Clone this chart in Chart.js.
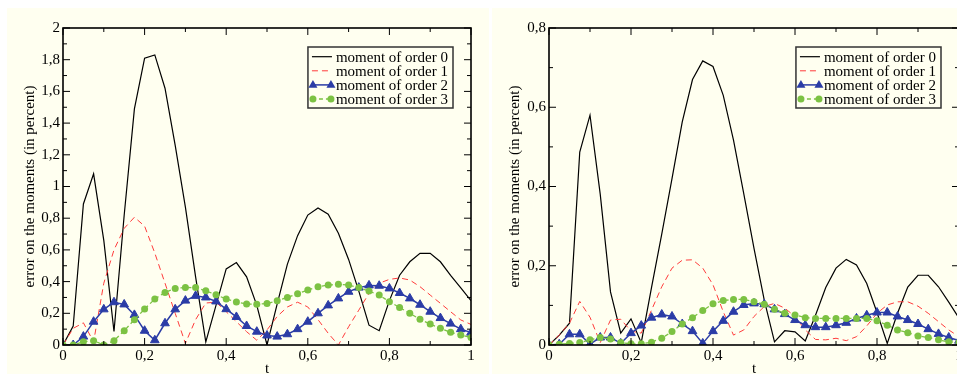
<!DOCTYPE html>
<html><head><meta charset="utf-8">
<script src="https://cdn.jsdelivr.net/npm/chart.js@4"></script>
<style>
html,body{margin:0;padding:0;background:#fff;overflow:hidden;width:957px;height:376px;}
.panel{position:absolute;background:#fffff0;}
#p1{left:7px;top:8px;width:482px;height:366px;}
#p2{left:492px;top:8px;width:490px;height:366px;}
canvas{display:block;}
</style></head><body>
<div class="panel" id="p1"><canvas id="c1" width="482" height="366"></canvas></div>
<div class="panel" id="p2"><canvas id="c2" width="490" height="366"></canvas></div>
<script>
// ---- data ----
const tValues = [0,0.025,0.05,0.075,0.1,0.125,0.15,0.175,0.2,0.225,0.25,0.275,0.3,0.325,0.35,0.375,0.4,0.425,0.45,0.475,0.5,0.525,0.55,0.575,0.6,0.625,0.65,0.675,0.7,0.725,0.75,0.775,0.8,0.825,0.85,0.875,0.9,0.925,0.95,0.975,1];
const seriesLabels = ['moment of order 0','moment of order 1','moment of order 2','moment of order 3'];

const leftOrder0 = [0,0.12,0.89,1.08,0.66,0.085,0.82,1.49,1.81,1.83,1.62,1.26,0.87,0.43,0.02,0.25,0.48,0.52,0.43,0.25,0.0,0.26,0.51,0.69,0.82,0.865,0.825,0.705,0.54,0.34,0.125,0.09,0.28,0.44,0.525,0.578,0.578,0.525,0.44,0.36,0.28];
const leftOrder1 = [0,0.105,0.14,0.02,0.39,0.6,0.736,0.806,0.75,0.58,0.39,0.2,0.01,0.16,0.265,0.27,0.21,0.147,0.084,0.03,0.095,0.18,0.24,0.27,0.24,0.16,0.074,0.0,0.115,0.22,0.326,0.39,0.414,0.423,0.41,0.368,0.315,0.263,0.21,0.158,0.13];
const leftOrder2 = [0,0.0,0.053,0.147,0.225,0.27,0.256,0.19,0.09,0.03,0.137,0.225,0.28,0.31,0.30,0.275,0.226,0.177,0.12,0.084,0.06,0.053,0.068,0.1,0.147,0.2,0.25,0.294,0.336,0.362,0.376,0.374,0.357,0.328,0.294,0.254,0.21,0.17,0.135,0.1,0.078];
const leftOrder3 = [0,0,0.02,0.027,0.0,0.027,0.09,0.16,0.227,0.29,0.332,0.357,0.363,0.362,0.342,0.317,0.29,0.272,0.258,0.257,0.262,0.279,0.3,0.323,0.347,0.368,0.378,0.383,0.378,0.363,0.34,0.315,0.273,0.237,0.2,0.162,0.132,0.105,0.08,0.063,0.048];

const rightOrder0 = [0,0.025,0.055,0.487,0.58,0.38,0.134,0.03,0.066,0.006,0.145,0.28,0.42,0.563,0.67,0.717,0.703,0.63,0.517,0.382,0.244,0.113,0.008,0.036,0.033,0.01,0.075,0.145,0.194,0.216,0.202,0.155,0.082,0.004,0.08,0.146,0.176,0.176,0.147,0.108,0.068];
const rightOrder1 = [0,0.025,0.055,0.11,0.07,0.006,0.063,0.065,0.035,0.03,0.088,0.147,0.194,0.214,0.215,0.194,0.152,0.084,0.025,0.038,0.072,0.097,0.105,0.093,0.072,0.038,0.014,0.013,0.017,0.011,0.021,0.048,0.08,0.101,0.109,0.109,0.098,0.08,0.059,0.038,0.021];
const rightOrder2 = [0,0.002,0.027,0.027,0.002,0.019,0.019,0.004,0.03,0.049,0.069,0.077,0.072,0.053,0.035,0.004,0.035,0.061,0.084,0.101,0.105,0.103,0.09,0.078,0.063,0.05,0.045,0.045,0.05,0.056,0.067,0.075,0.082,0.082,0.072,0.063,0.053,0.04,0.028,0.019,0.011];
const rightOrder3 = [0,0.002,0.004,0.006,0.013,0.019,0.015,0.006,0.003,0.003,0.007,0.017,0.034,0.053,0.069,0.087,0.104,0.112,0.115,0.115,0.109,0.103,0.09,0.08,0.076,0.069,0.067,0.067,0.067,0.067,0.067,0.067,0.061,0.05,0.038,0.031,0.023,0.019,0.013,0.008,0.007];

const xTickStep = 0.2;
const leftYMax = 2, rightYMax = 0.8, yTickStep = 0.2;
const xTitle = 't';
const yTitle = 'error on the moments (in percent)';

// ---- styling ----
const BG = '#fffff0';
const FONT = '"Liberation Serif", "Times New Roman", serif';
Chart.defaults.font.family = FONT;
Chart.defaults.color = '#000';

const fmt = v => String(Math.round(v * 10) / 10).replace('.', ',');
const pts = arr => arr.map((y, i) => ({x: tValues[i], y}));

function makeDatasets(a0, a1, a2, a3) {
  return [
    {label: seriesLabels[0], data: pts(a0), borderColor: '#000', borderWidth: 1.2, pointRadius: 0, order: 3},
    {label: seriesLabels[1], data: pts(a1), borderColor: '#ff3b3b', borderWidth: 1, borderDash: [6, 4], pointRadius: 0, order: 2},
    {label: seriesLabels[2], data: pts(a2), borderColor: '#2b3ca6', backgroundColor: '#2b3ca6', borderWidth: 1.5,
      pointStyle: 'triangle', pointRadius: 5, pointBorderWidth: 1, pointBackgroundColor: '#2b3ca6', pointBorderColor: '#2b3ca6', order: 1},
    {label: seriesLabels[3], data: pts(a3), borderColor: '#7cc243', backgroundColor: '#7cc243', borderWidth: 1.3, borderDash: [4, 3],
      pointStyle: 'circle', pointRadius: 3.5, pointBorderWidth: 0, pointBackgroundColor: '#7cc243', order: 0}
  ];
}

function line(ctx, x1, y1, x2, y2) { ctx.beginPath(); ctx.moveTo(x1, y1); ctx.lineTo(x2, y2); ctx.stroke(); }

const frameTicks = {
  id: 'frameTicks',
  afterDatasetsDraw(chart) {
    const ctx = chart.ctx, a = chart.chartArea, xs = chart.scales.x, ys = chart.scales.y;
    ctx.save();
    ctx.strokeStyle = '#000';
    ctx.lineWidth = 1;
    const dX = (v, len) => { const p = xs.getPixelForValue(v); line(ctx, p, a.bottom, p, a.bottom - len); line(ctx, p, a.top, p, a.top + len); };
    const dY = (v, len) => { const p = ys.getPixelForValue(v); line(ctx, a.left, p, a.left + len, p); line(ctx, a.right, p, a.right - len, p); };
    xs.ticks.forEach((t, i) => { dX(t.value, 7); if (i < xs.ticks.length - 1) dX((t.value + xs.ticks[i + 1].value) / 2, 4); });
    ys.ticks.forEach((t, i) => { dY(t.value, 7); if (i < ys.ticks.length - 1) dY((t.value + ys.ticks[i + 1].value) / 2, 4); });
    ctx.lineWidth = 1.6;
    ctx.strokeRect(a.left, a.top, a.right - a.left, a.bottom - a.top);
    ctx.restore();
  }
};

function marker(ctx, style, r, x, y) {
  ctx.beginPath();
  if (style === 'triangle') {
    ctx.moveTo(x, y - r); ctx.lineTo(x + r * 0.9, y + r * 0.55); ctx.lineTo(x - r * 0.9, y + r * 0.55); ctx.closePath();
  } else {
    ctx.arc(x, y, r, 0, Math.PI * 2);
  }
  ctx.fill();
}

const boxLegend = {
  id: 'boxLegend',
  afterDraw(chart, args, opts) {
    const ctx = chart.ctx, a = chart.chartArea, ds = chart.data.datasets;
    ctx.save();
    ctx.font = '15px ' + FONT;
    const tw = Math.max(...ds.map(d => ctx.measureText(d.label).width));
    const w = 28 + tw + 5, h = 61;
    const x = a.right - opts.right - w, y = a.top + opts.top;
    ctx.fillStyle = BG; ctx.fillRect(x, y, w, h);
    ctx.strokeStyle = '#333'; ctx.lineWidth = 1.5; ctx.strokeRect(x, y, w, h);
    ds.forEach((d, i) => {
      const cy = y + 9.7 + i * 14.1;
      ctx.setLineDash(d.borderDash || []);
      ctx.strokeStyle = d.borderColor; ctx.lineWidth = d.borderWidth;
      line(ctx, x + 4, cy, x + 24, cy);
      ctx.setLineDash([]);
      if (d.pointRadius > 0) {
        ctx.fillStyle = d.pointBackgroundColor;
        marker(ctx, d.pointStyle, d.pointRadius, x + 5, cy);
        marker(ctx, d.pointStyle, d.pointRadius, x + 23, cy);
      }
      ctx.fillStyle = '#000'; ctx.textBaseline = 'middle'; ctx.textAlign = 'left';
      ctx.fillText(d.label, x + 28, cy + 1);
    });
    ctx.restore();
  }
};

function makeChart(id, datasets, yMax, yWidth, pad) {
  return new Chart(document.getElementById(id), {
    type: 'line',
    data: {datasets},
    options: {
      responsive: false, animation: false,
      layout: {padding: pad},
      plugins: {legend: {display: false}, tooltip: {enabled: false}, boxLegend: {right: 18, top: 19}},
      scales: {
        x: {type: 'linear', min: 0, max: 1,
          ticks: {stepSize: xTickStep, padding: 2, maxRotation: 0, autoSkip: false, font: {size: 15}, color: '#000', callback: fmt},
          grid: {display: false, drawTicks: false}, border: {display: false},
          title: {display: true, text: xTitle, font: {size: 15}, color: '#000', padding: {top: 0, bottom: -4}},
          afterFit(s) { s.height = 29; }},
        y: {type: 'linear', min: 0, max: yMax,
          ticks: {stepSize: yTickStep, padding: 3, font: {size: 15}, color: '#000', callback: fmt},
          grid: {display: false, drawTicks: false}, border: {display: false},
          title: {display: true, text: yTitle, font: {size: 15}, color: '#000', padding: {top: 14, bottom: 0}},
          afterFit(s) { s.width = yWidth; }}
      }
    },
    plugins: [frameTicks, boxLegend]
  });
}

makeChart('c1', makeDatasets(leftOrder0, leftOrder1, leftOrder2, leftOrder3), leftYMax, 56, {top: 20, right: 18, left: 0, bottom: 0});
makeChart('c2', makeDatasets(rightOrder0, rightOrder1, rightOrder2, rightOrder3), rightYMax, 57, {top: 20, right: 23, left: 0, bottom: 0});
</script>
</body></html>
